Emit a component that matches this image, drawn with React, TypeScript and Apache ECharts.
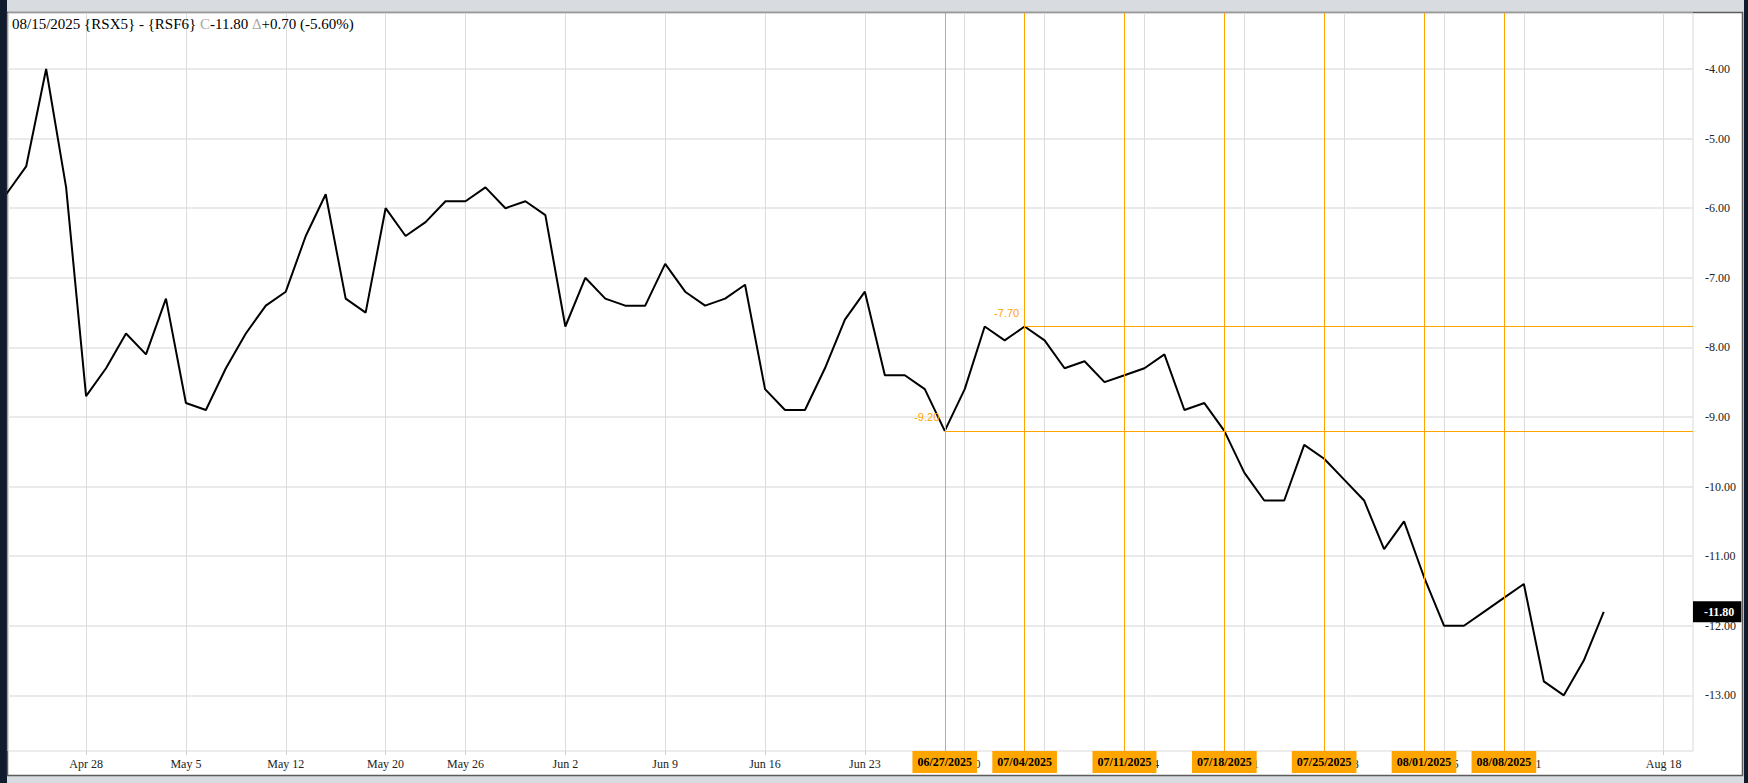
import React, { useEffect, useRef } from 'react';
import * as echarts from 'echarts';

// ---- data ----
const dates: string[] = [
  '04/22', '04/23', '04/24', '04/25',
  '04/28', '04/29', '04/30', '05/01', '05/02',
  '05/05', '05/06', '05/07', '05/08', '05/09',
  '05/12', '05/13', '05/14', '05/15', '05/16',
  '05/20', '05/21', '05/22', '05/23',
  '05/26', '05/27', '05/28', '05/29', '05/30',
  '06/02', '06/03', '06/04', '06/05', '06/06',
  '06/09', '06/10', '06/11', '06/12', '06/13',
  '06/16', '06/17', '06/18', '06/19', '06/20',
  '06/23', '06/24', '06/25', '06/26', '06/27',
  '06/30', '07/02', '07/03', '07/04',
  '07/07', '07/08', '07/09', '07/10', '07/11',
  '07/14', '07/15', '07/16', '07/17', '07/18',
  '07/21', '07/22', '07/23', '07/24', '07/25',
  '07/28', '07/29', '07/30', '07/31', '08/01',
  '08/05', '08/06', '08/07', '08/08',
  '08/11', '08/12', '08/13', '08/14', '08/15',
  '08/16', '08/17', '08/18', '08/19',
];

const spread: number[] = [
  -5.8, -5.4, -4.0, -5.7,
  -8.7, -8.3, -7.8, -8.1, -7.3,
  -8.8, -8.9, -8.3, -7.8, -7.4,
  -7.2, -6.4, -5.8, -7.3, -7.5,
  -6.0, -6.4, -6.2, -5.9,
  -5.9, -5.7, -6.0, -5.9, -6.1,
  -7.7, -7.0, -7.3, -7.4, -7.4,
  -6.8, -7.2, -7.4, -7.3, -7.1,
  -8.6, -8.9, -8.9, -8.3, -7.6,
  -7.2, -8.4, -8.4, -8.6, -9.2,
  -8.6, -7.7, -7.9, -7.7,
  -7.9, -8.3, -8.2, -8.5, -8.4,
  -8.3, -8.1, -8.9, -8.8, -9.2,
  -9.8, -10.2, -10.2, -9.4, -9.6,
  -9.9, -10.2, -10.9, -10.5, -11.3,
  -12.0, -12.0, -11.8, -11.6,
  -11.4, -12.8, -13.0, -12.5, -11.8,
];

const tickDates: string[] = ['04/28', '05/05', '05/12', '05/20', '05/26', '06/02', '06/09', '06/16', '06/23', '06/30', '07/07', '07/14', '07/21', '07/28', '08/05', '08/11', '08/18'];
const tickLabels: string[] = ['Apr 28', 'May 5', 'May 12', 'May 20', 'May 26', 'Jun 2', 'Jun 9', 'Jun 16', 'Jun 23', 'Jun 30', 'Jul 7', 'Jul 14', 'Jul 21', 'Jul 28', 'Aug 5', 'Aug 11', 'Aug 18'];
const yTicks: number[] = [-4, -5, -6, -7, -8, -9, -10, -11, -12, -13];

const markerDates: string[] = ['06/27', '07/04', '07/11', '07/18', '07/25', '08/01', '08/08'];
const markerYear = '2025';

const lowLevel = { date: '06/27', value: -9.2 };
const highLevel = { date: '07/04', value: -7.7 };
const lastDate = '08/15';
const lastValue = -11.8;

const headerText = '08/15/2025 {RSX5} - {RSF6} {g|C}-11.80 {g|Δ}+0.70 (-5.60%)';

// ---- layout ----
const XMIN = 0.09;
const XMAX = 84.47;
const YMIN = -13.8;
const YMAX = -3.195;
const ORANGE = '#FFA500';

const idx = (d: string) => dates.indexOf(d);

function buildOption(): any {
  const tickIdx = tickDates.map(idx);
  const labelByIdx: Record<number, string> = {};
  tickIdx.forEach((t, i) => (labelByIdx[t] = tickLabels[i]));
  const lineData = spread.map((v, i) => [i, v]);

  const markLineData: any[] = markerDates.map((d) => ({
    xAxis: idx(d),
    label: {
      show: true,
      position: 'start',
      distance: 0,
      formatter: `${d}/${markerYear}`,
      backgroundColor: ORANGE,
      color: '#000',
      fontWeight: 'bold',
      fontFamily: 'Liberation Serif',
      fontSize: 12,
      padding: [5, 5, 5, 5],
    },
  }));
  markLineData.push([
    { coord: [idx(lowLevel.date), lowLevel.value], label: { show: false } },
    { coord: [XMAX, lowLevel.value] },
  ]);
  markLineData.push([
    { coord: [idx(highLevel.date), highLevel.value], label: { show: false } },
    { coord: [XMAX, highLevel.value] },
  ]);

  // price tag on the right axis
  const tagLine: any[] = [
    [
      {
        coord: [idx(lastDate), lastValue],
        label: {
          show: true,
          position: 'end',
          distance: 0,
          formatter: lastValue.toFixed(2),
          backgroundColor: '#000',
          color: '#fff',
          fontWeight: 'bold',
          fontFamily: 'Liberation Serif',
          fontSize: 12,
          padding: [4, 7, 5, 11],
        },
      },
      { coord: [XMAX, lastValue] },
    ],
  ];

  return {
    animation: false,
    backgroundColor: 'transparent',
    title: {
      text: headerText,
      left: 12,
      top: 16,
      padding: 0,
      textStyle: {
        fontFamily: 'Liberation Serif',
        fontSize: 15,
        fontWeight: 'normal',
        color: '#000',
        rich: {
          g: { fontFamily: 'Liberation Serif', fontSize: 15, color: '#a8a8a8' },
        },
      },
    },
    graphic: [
      { type: 'rect', z: -20, silent: true, shape: { x: 0, y: 0, width: 7, height: 783 }, style: { fill: '#101b2d' } },
      { type: 'rect', z: -20, silent: true, shape: { x: 1744, y: 0, width: 4, height: 783 }, style: { fill: '#101b2d' } },
      {
        type: 'rect', z: -10, silent: true,
        shape: { x: 7.5, y: 12.5, width: 1735, height: 763 },
        style: { fill: '#ffffff', stroke: '#5c5c5c', lineWidth: 1.5 },
      },
    ],
    grid: {
      left: 8,
      top: 13,
      width: 1685,
      height: 738,
      show: true,
      borderColor: '#d9d9d9',
      borderWidth: 1,
      backgroundColor: 'transparent',
    },
    xAxis: {
      type: 'value',
      min: XMIN,
      max: XMAX,
      position: 'bottom',
      axisLine: { show: false },
      axisTick: { show: true, customValues: tickIdx, length: 4, lineStyle: { color: '#d0d0d0' } },
      axisLabel: {
        customValues: tickIdx,
        formatter: (v: number) => labelByIdx[Math.round(v)] ?? '',
        fontFamily: 'Liberation Serif',
        fontSize: 12,
        color: '#222',
        margin: 7,
      },
      splitLine: { show: true, lineStyle: { color: '#dcdcdc', width: 1 } },
    },
    yAxis: {
      type: 'value',
      position: 'right',
      min: YMIN,
      max: YMAX,
      axisLine: { show: false },
      axisTick: { show: false, customValues: yTicks },
      axisLabel: {
        customValues: yTicks,
        formatter: (v: number) => v.toFixed(2),
        fontFamily: 'Liberation Serif',
        fontSize: 12,
        color: '#222',
        margin: 12,
      },
      splitLine: { show: true, lineStyle: { color: '#e3e3e3', width: 1.5 } },
    },
    series: [
      {
        type: 'line',
        data: lineData,
        symbol: 'none',
        clip: true,
        silent: true,
        lineStyle: { color: '#000', width: 2 },
        z: 3,
      },
      {
        type: 'line',
        data: lineData,
        symbol: 'none',
        clip: false,
        silent: true,
        lineStyle: { opacity: 0, width: 0 },
        z: 2,
        markLine: {
          silent: true,
          symbol: ['none', 'none'],
          animation: false,
          lineStyle: { color: ORANGE, width: 1, type: 'solid' },
          label: { show: false },
          data: markLineData,
        },
        markPoint: {
          silent: true,
          symbol: 'circle',
          symbolSize: 1,
          itemStyle: { color: 'transparent' },
          label: {
            show: true,
            position: 'left',
            distance: 5,
            offset: [0, -14],
            color: ORANGE,
            fontFamily: 'Liberation Sans',
            fontSize: 11,
            formatter: (p: any) => p.value,
          },
          data: [
            { coord: [idx(lowLevel.date), lowLevel.value], value: lowLevel.value.toFixed(2) },
            { coord: [idx(highLevel.date), highLevel.value], value: highLevel.value.toFixed(2) },
          ],
        },
      },
      {
        type: 'line',
        data: lineData,
        symbol: 'none',
        clip: false,
        silent: true,
        lineStyle: { opacity: 0, width: 0 },
        z: 5,
        markLine: {
          silent: true,
          symbol: ['none', 'none'],
          animation: false,
          lineStyle: { color: 'rgba(0,0,0,0)', width: 0 },
          data: tagLine,
        },
      },
    ],
  };
}

export default function App() {
  const ref = useRef<HTMLDivElement>(null);
  useEffect(() => {
    if (!ref.current) return;
    const chart = echarts.init(ref.current, null, { renderer: 'svg' });
    chart.setOption(buildOption());
    return () => chart.dispose();
  }, []);
  return (
    <div
      ref={ref}
      style={{ position: 'fixed', left: 0, top: 0, width: 1748, height: 783, background: '#d8dce1' }}
    />
  );
}
